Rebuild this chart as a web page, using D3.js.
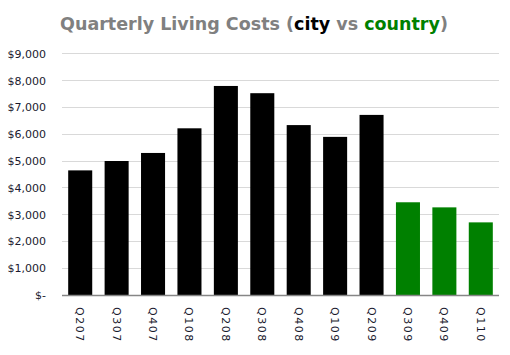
<!DOCTYPE html>
<html><head><meta charset="utf-8">
<script src="https://cdn.jsdelivr.net/npm/d3@7"></script>
<style>body{margin:0;background:#fff;} svg{display:block;}</style>
</head><body>
<script>
const categories = ["Q207","Q307","Q407","Q108","Q208","Q308","Q408","Q109","Q209","Q309","Q409","Q110"];
const values = [4650, 5000, 5300, 6220, 7800, 7530, 6340, 5900, 6720, 3460, 3270, 2710];
const groups = ["city","city","city","city","city","city","city","city","city","country","country","country"];
const yTicks = [0,1000,2000,3000,4000,5000,6000,7000,8000,9000];
const colors = {city:"#000000", country:"#008000"};

const W=510,H=355;
const svg=d3.select("body").append("svg").attr("width",W).attr("height",H);
const x=d3.scaleBand().domain(categories).range([62,499]).paddingInner(0.34).paddingOuter(0.17);
const y=d3.scaleLinear().domain([0,9000]).range([295,53.8]);

// gridlines
svg.append("g").selectAll("line").data(yTicks.filter(d=>d>0)).join("line")
  .attr("x1",62).attr("x2",499).attr("y1",d=>y(d)).attr("y2",d=>y(d))
  .attr("stroke","#d9d9d9").attr("stroke-width",1).attr("shape-rendering","crispEdges");

// y axis labels
const fmt=d=>d===0?"$-":"$"+d3.format(",")(d);
const yAxis=d3.axisLeft(y).tickValues(yTicks).tickFormat(fmt).tickSize(0).tickPadding(16);
const gy=svg.append("g").attr("transform","translate(62,0)").call(yAxis);
gy.select(".domain").remove();
gy.selectAll("text").attr("font-family","DejaVu Sans, Verdana, sans-serif").attr("font-size","11px").attr("fill","#1a1a2e");

// bars
svg.append("g").selectAll("rect").data(categories).join("rect")
  .attr("x",d=>x(d)).attr("width",x.bandwidth())
  .attr("y",(d,i)=>y(values[i])).attr("height",(d,i)=>y(0)-y(values[i]))
  .attr("fill",(d,i)=>colors[groups[i]]);

// x axis
const xAxis=d3.axisBottom(x).tickSize(0).tickPadding(0);
const gx=svg.append("g").attr("transform","translate(0,295)").call(xAxis);
gx.select(".domain").attr("d","M62,0.5H499").attr("stroke","#868686").attr("stroke-width",1.5);
gx.selectAll("text")
  .attr("font-family","DejaVu Sans, Verdana, sans-serif").attr("font-size","11px").attr("fill","#1a1a2e")
  .attr("letter-spacing","1.5px")
  .attr("text-anchor","start").attr("dy",null).attr("y",0).attr("x",0)
  .attr("transform","translate(-4,12) rotate(90)");

// title
const t=svg.append("text").attr("x",254).attr("y",30).attr("text-anchor","middle")
  .attr("font-family","DejaVu Sans, sans-serif").attr("font-weight","bold").attr("font-size","17.5px").attr("fill","#808080");
t.append("tspan").text("Quarterly Living Costs (");
t.append("tspan").attr("fill","#000").text("city");
t.append("tspan").text(" vs ");
t.append("tspan").attr("fill","#008000").text("country");
t.append("tspan").text(")");
</script>
</body></html>
